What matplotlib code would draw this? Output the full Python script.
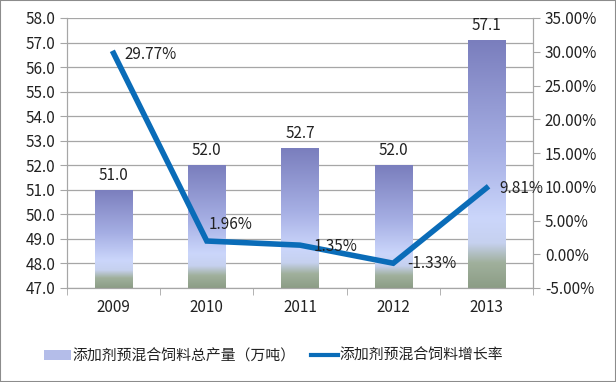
import numpy as np
import matplotlib.pyplot as plt
from matplotlib.colors import LinearSegmentedColormap
from matplotlib.patches import Patch, Rectangle
from matplotlib.lines import Line2D

plt.rcParams['font.family'] = ['Noto Sans CJK SC', 'DejaVu Sans']

# ====================== DATA ======================
years = ['2009', '2010', '2011', '2012', '2013']
output = [51.0, 52.0, 52.7, 52.0, 57.1]          # 万吨
growth = [29.77, 1.96, 1.35, -1.33, 9.81]        # %
bar_name = '添加剂预混合饲料总产量（万吨）'
line_name = '添加剂预混合饲料增长率'

# ====================== STYLE ======================
grad = LinearSegmentedColormap.from_list('bar', [
    (0.0, '#7a7ebd'), (0.45, '#a6afe4'), (0.72, '#cbd6fb'),
    (0.82, '#c6d1ef'), (0.9, '#a0b09c'), (1.0, '#8c9d86')])
line_col = '#0a6cb8'
grid_col = '#a6a6a6'
txt_col = '#222222'

fig = plt.figure(figsize=(6.16, 3.82), dpi=100)
ax = fig.add_axes([67/616, 1 - 288/382, (533-67)/616, (288-18)/382])
ax2 = ax.twinx()

ymin, ymax = 47.0, 58.0
x = np.arange(len(years))
w = 0.4
ax.set_xlim(-0.5, len(years) - 0.5)
ax.set_ylim(ymin, ymax)

# gradient bars, one image per bar clipped to its rectangle
g = np.linspace(0, 1, 256).reshape(-1, 1)
for xi, v in zip(x, output):
    rect = Rectangle((xi - w/2, ymin), w, v - ymin, facecolor='none', edgecolor='none')
    ax.add_patch(rect)
    im = ax.imshow(g, cmap=grad, aspect='auto', extent=(xi - w/2, xi + w/2, ymin, v),
                   origin='upper', zorder=2)
    im.set_clip_path(rect)
    ax.text(xi, v + 0.25, f'{v:.1f}', ha='center', va='bottom', fontsize=11,
            color=txt_col, zorder=5)
ax.set_aspect('auto')

ax.set_yticks(np.arange(47, 58.1, 1))
ax.set_yticklabels([f'{t:.1f}' for t in np.arange(47, 58.1, 1)])
ax.yaxis.grid(True, color=grid_col, lw=0.9)
ax.set_axisbelow(True)
ax.set_xticks(x)
ax.set_xticklabels(years)
ax.set_xticks(np.arange(-0.5, len(years)), minor=True)
ax.tick_params(axis='x', which='major', length=0, pad=8, labelsize=11, colors=txt_col)
ax.tick_params(axis='x', which='minor', length=5, color=grid_col)
ax.tick_params(axis='y', length=5, color=grid_col, labelsize=11, labelcolor=txt_col)

# growth line on right axis
ax2.set_ylim(-5, 35)
ax2.plot(x, growth, color=line_col, lw=4, solid_joinstyle='miter', zorder=4)
offsets = [(8, -1), (1, 12), (10, -1), (10, 0), (9, 0)]
for xi, v, (dx, dy) in zip(x, growth, offsets):
    ax2.annotate(f'{v:.2f}%', (xi, v), xytext=(dx, dy), textcoords='offset points',
                 ha='left', va='center', fontsize=11, color=txt_col, zorder=6)
ax2.set_yticks(np.arange(-5, 35.1, 5))
ax2.set_yticklabels([f'{t:.2f}%' for t in np.arange(-5, 35.1, 5)])
ax2.tick_params(axis='y', length=5, color=grid_col, labelsize=11, labelcolor=txt_col)

for a in (ax, ax2):
    a.spines['top'].set_visible(False)
    for s in ('left', 'right', 'bottom'):
        a.spines[s].set_color(grid_col)

# legend
handles = [Patch(facecolor='#b4bde9', edgecolor='none'),
           Line2D([0], [0], color=line_col, lw=3)]
fig.legend(handles, [bar_name, line_name], loc='center left',
           bbox_to_anchor=(38/616, 1 - 356/382), borderaxespad=0,
           ncol=2, frameon=False, fontsize=10.7, handlelength=1.8, handletextpad=0.15,
           columnspacing=1.0, labelcolor=txt_col)

# outer frame
fig.patches.append(Rectangle((0, 0), 1, 1, transform=fig.transFigure, fill=False,
                             edgecolor='#8c8c8c', lw=1.5))

fig.savefig('out.png', dpi=100)
